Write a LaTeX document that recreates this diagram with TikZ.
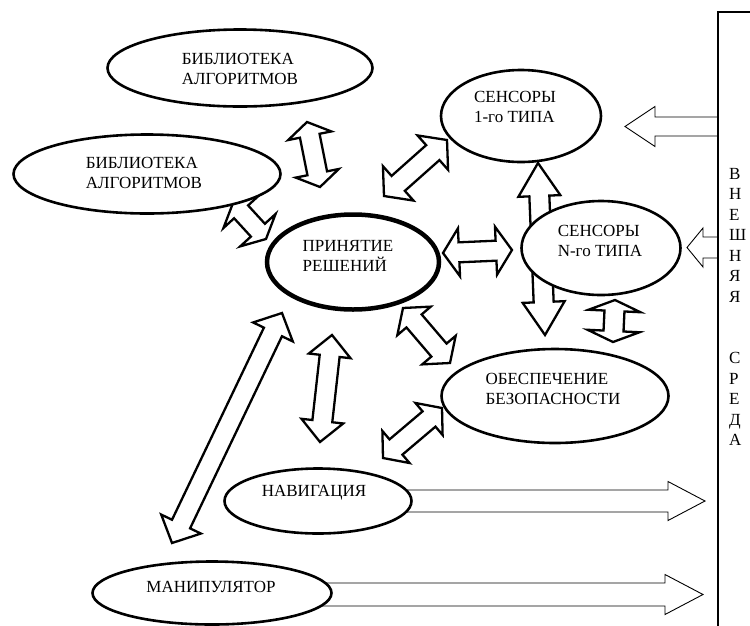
\documentclass[tikz,border=0pt]{standalone}
\usepackage{fontspec}
\setmainfont{Liberation Serif}
\usetikzlibrary{shapes.geometric,calc}

% double block arrow: #1 start, #2 end, #3 half shaft, #4 half head, #5 head length
\newcommand{\dblarr}[5]{%
  \draw[blockarr] (#1)
    -- ($(#1)!#5!(#2)!#4!90:(#2)$)
    -- ($(#1)!#5!(#2)!#3!90:(#2)$)
    -- ($(#2)!#5!(#1)!#3!-90:(#1)$)
    -- ($(#2)!#5!(#1)!#4!-90:(#1)$)
    -- (#2)
    -- ($(#2)!#5!(#1)!#4!90:(#1)$)
    -- ($(#2)!#5!(#1)!#3!90:(#1)$)
    -- ($(#1)!#5!(#2)!#3!-90:(#2)$)
    -- ($(#1)!#5!(#2)!#4!-90:(#2)$)
    -- cycle;}
% single block arrow: #1 flat start, #2 tip
\newcommand{\sglarr}[5]{%
  \draw[thinarr] ($(#1)!#3!90:(#2)$)
    -- ($(#2)!#5!(#1)!#3!-90:(#1)$)
    -- ($(#2)!#5!(#1)!#4!-90:(#1)$)
    -- (#2)
    -- ($(#2)!#5!(#1)!#4!90:(#1)$)
    -- ($(#2)!#5!(#1)!#3!90:(#1)$)
    -- ($(#1)!#3!-90:(#2)$)
    -- cycle;}

\begin{document}
\begin{tikzpicture}[x=1pt,y=-1pt,
  ell/.style={draw, ellipse, fill=white, line width=2.6pt, inner sep=0pt},
  lbl/.style={align=left, inner sep=0pt, font=\fontsize{17}{20}\selectfont},
  vlet/.style={anchor=base west, inner sep=0pt, font=\fontsize{17}{20}\selectfont},
  blockarr/.style={draw, fill=white, line width=2.3pt, line join=miter},
  thinarr/.style={draw, fill=white, line width=0.9pt, line join=miter}]
\fill[white] (0,0) rectangle (750,625);
\useasboundingbox (0,0) rectangle (750,625);

% arrow end points
\coordinate (a1s) at (307,122);  \coordinate (a1e) at (320,187);
\coordinate (a2s) at (233,203);  \coordinate (a2e) at (266,239);
\coordinate (a3s) at (384,196);  \coordinate (a3e) at (447,140);
\coordinate (a4s) at (443,253);  \coordinate (a4e) at (512,250);
\coordinate (a5s) at (538,163);  \coordinate (a5e) at (545,335);
\coordinate (a6s) at (615,300);  \coordinate (a6e) at (613,342);
\coordinate (a7s) at (403,308);  \coordinate (a7e) at (450,363);
\coordinate (a8s) at (383,458);  \coordinate (a8e) at (442,408);
\coordinate (a9s) at (332,335);  \coordinate (a9e) at (320,442);
\coordinate (a10s) at (282,313); \coordinate (a10e) at (172,543);

\coordinate (navs) at (380,501);   \coordinate (nave) at (705,501);
\coordinate (mans) at (300,594.5); \coordinate (mane) at (703,594.5);
\coordinate (e1s) at (718,126.5);  \coordinate (e1e) at (625,126.5);
\coordinate (eNs) at (718,247.5);  \coordinate (eNe) at (687,247.5);

% block arrows
\dblarr{a1s}{a1e}{10pt}{22pt}{14pt}
\dblarr{a2s}{a2e}{9.5pt}{24pt}{12pt}
\dblarr{a3s}{a3e}{10pt}{23pt}{19pt}
\dblarr{a4s}{a4e}{10pt}{24pt}{16pt}
\dblarr{a5s}{a5e}{10pt}{21pt}{33pt}
\dblarr{a6s}{a6e}{10pt}{26pt}{11pt}
\dblarr{a7s}{a7e}{10pt}{22pt}{17pt}
\dblarr{a8s}{a8e}{10pt}{21pt}{17pt}
\dblarr{a9s}{a9e}{10pt}{21pt}{21pt}
\dblarr{a10s}{a10e}{10pt}{22pt}{21pt}

\sglarr{navs}{nave}{11pt}{19.5pt}{37pt}
\sglarr{mans}{mane}{11.5pt}{20pt}{38pt}
\sglarr{e1s}{e1e}{9.5pt}{20pt}{30pt}
\sglarr{eNs}{eNe}{10.5pt}{19.5pt}{16pt}

% ellipses
\node[ell, minimum width=265pt, minimum height=77pt] (lib1) at (240,68) {};
\node[ell, minimum width=267pt, minimum height=79pt] (lib2) at (147,174) {};
\node[ell, line width=4.5pt, minimum width=172pt, minimum height=95pt] (dec) at (353,262) {};
\node[ell, minimum width=160pt, minimum height=92pt] (s1) at (521,116) {};
\node[ell, minimum width=159pt, minimum height=94pt] (sN) at (601,248) {};
\node[ell, minimum width=227pt, minimum height=94pt] (safe) at (555,396) {};
\node[ell, minimum width=187pt, minimum height=65pt] (nav) at (318,501) {};
\node[ell, minimum width=239pt, minimum height=63pt] (man) at (212,593) {};

% labels
\node[lbl] (lib1t) at (240,69) {БИБЛИОТЕКА\\АЛГОРИТМОВ};
\node[lbl] (lib2t) at (144,173) {БИБЛИОТЕКА\\АЛГОРИТМОВ};
\node[lbl] (dect) at (348,256) {ПРИНЯТИЕ\\РЕШЕНИЙ};
\node[lbl] (s1t) at (515,107) {СЕНСОРЫ\\1-го ТИПА};
\node[lbl] (sNt) at (600,241) {СЕНСОРЫ\\N-го ТИПА};
\node[lbl] (safet) at (553,389) {ОБЕСПЕЧЕНИЕ\\БЕЗОПАСНОСТИ};
\node[lbl] (navt) at (314,493) {НАВИГАЦИЯ};
\node[lbl] (mant) at (211,587) {МАНИПУЛЯТОР};

% environment box
\draw[line width=2.6pt] (718,640) -- (718,12) -- (760,12);
\foreach \ch [count=\i from 0] in {В,Н,Е,Ш,Н,Я,Я}
  \node[vlet] (envA\i) at (729,179+20.5*\i) {\ch};
\foreach \ch [count=\i from 9] in {С,Р,Е,Д,А}
  \node[vlet] (envB\i) at (729,179+20.5*\i) {\ch};
\end{tikzpicture}
\end{document}
